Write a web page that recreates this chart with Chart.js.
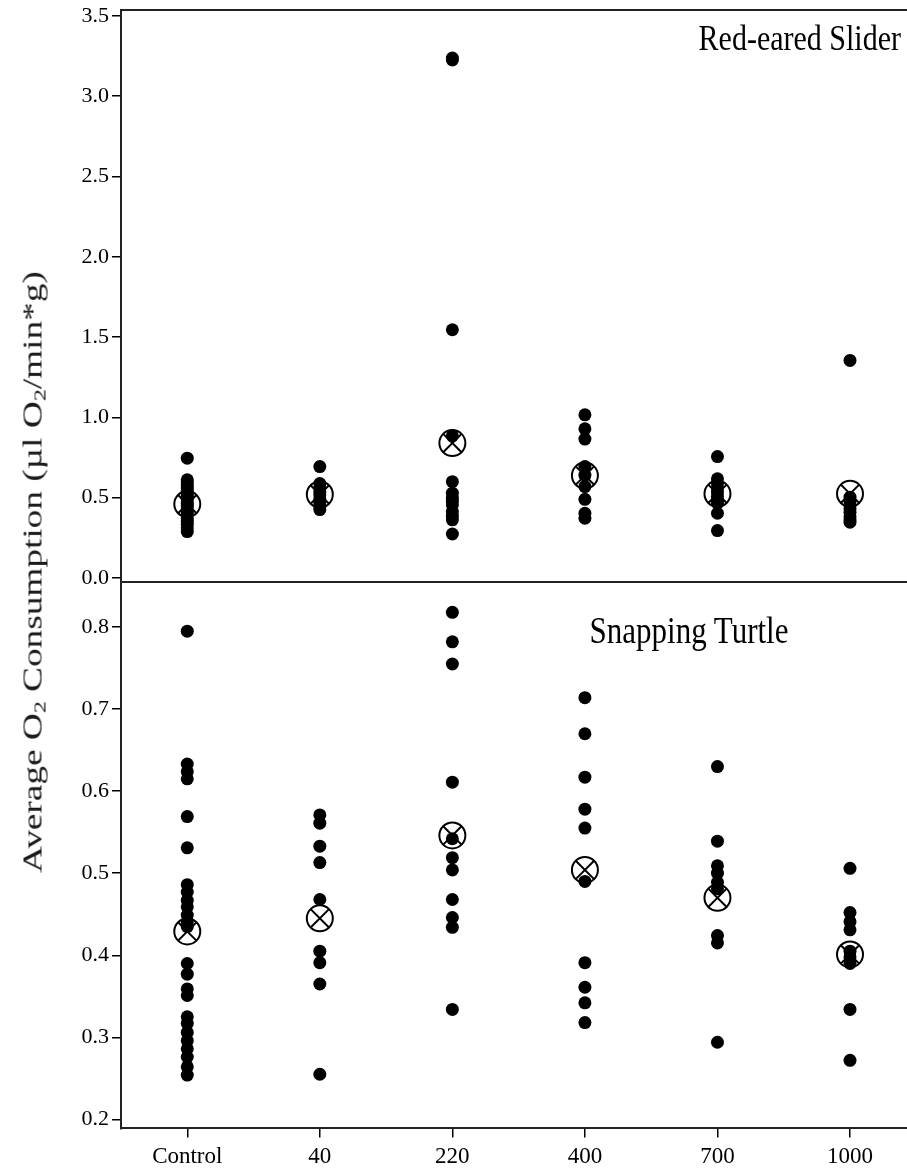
<!DOCTYPE html>
<html>
<head>
<meta charset="utf-8">
<script src="https://cdn.jsdelivr.net/npm/chart.js@4.4.1/dist/chart.umd.min.js"></script>
<style>
  html, body { margin: 0; padding: 0; background: #fff; overflow: hidden; }
  #wrap { position: relative; width: 907px; height: 1170px; overflow: hidden; }
  #topChart { position: absolute; left: 0; top: 0; }
  #botChart { position: absolute; left: 0; top: 582px; }
  .lbl { position: absolute; font-family: 'Liberation Serif', 'Times New Roman', serif; color: #000; white-space: nowrap; line-height: 1; }
  .lbl sub { font-size: 0.65em; vertical-align: -0.25em; line-height: 0; }
</style>
</head>
<body>
<div id="wrap">
  <canvas id="topChart" width="907" height="592"></canvas>
  <canvas id="botChart" width="907" height="595"></canvas>
  <div class="lbl" id="ytitle" style="left:33px; top:572px; font-size:27px; color:#1a1a1a; transform: translate(-50%,-50%) rotate(-90deg) scaleX(1.38);">Average O<sub>2</sub> Consumption (µl O<sub>2</sub>/min*g)</div>
  <div class="lbl" style="right:6px; top:23px; font-size:30px; transform: scaleY(1.2);">Red-eared Slider</div>
  <div class="lbl" style="left:689px; top:615px; font-size:31px; transform: translate(-50%,0) scaleY(1.2);">Snapping Turtle</div>
</div>

<script>
// categories (dose groups)
const categories = ['Control', '40', '220', '400', '700', '1000'];

// Red-eared Slider, individual values
const sliderControl = [0.746, 0.611, 0.598, 0.578, 0.560, 0.545, 0.521, 0.503, 0.488, 0.466, 0.452, 0.437, 0.415, 0.398, 0.371, 0.352, 0.334, 0.312, 0.289];
const slider40 = [0.694, 0.588, 0.561, 0.537, 0.518, 0.493, 0.471, 0.447, 0.426];
const slider220 = [3.238, 3.226, 1.546, 0.885, 0.600, 0.528, 0.497, 0.478, 0.455, 0.414, 0.385, 0.362, 0.274];
const slider400 = [1.016, 0.929, 0.865, 0.694, 0.640, 0.569, 0.490, 0.403, 0.372];
const slider700 = [0.756, 0.618, 0.590, 0.562, 0.535, 0.508, 0.487, 0.466, 0.403, 0.295];
const slider1000 = [1.355, 0.503, 0.478, 0.452, 0.431, 0.409, 0.382, 0.362, 0.347];
const sliderMeans = [0.460, 0.520, 0.840, 0.638, 0.524, 0.524];

// Snapping Turtle, individual values
const snapControl = [0.795, 0.633, 0.624, 0.615, 0.569, 0.531, 0.486, 0.477, 0.467, 0.459, 0.449, 0.441, 0.435, 0.390, 0.377, 0.359, 0.351, 0.325, 0.317, 0.306, 0.296, 0.286, 0.276, 0.264, 0.254];
const snap40 = [0.571, 0.561, 0.533, 0.513, 0.468, 0.405, 0.391, 0.365, 0.255];
const snap220 = [0.818, 0.782, 0.755, 0.611, 0.542, 0.519, 0.504, 0.468, 0.446, 0.434, 0.334];
const snap400 = [0.714, 0.670, 0.617, 0.578, 0.555, 0.490, 0.391, 0.361, 0.342, 0.318];
const snap700 = [0.630, 0.539, 0.509, 0.500, 0.489, 0.481, 0.424, 0.415, 0.294];
const snap1000 = [0.506, 0.452, 0.441, 0.431, 0.405, 0.398, 0.390, 0.334, 0.272];
const snapMeans = [0.429, 0.445, 0.546, 0.504, 0.470, 0.401];

// tick labels
const sliderTicks = [0.0, 0.5, 1.0, 1.5, 2.0, 2.5, 3.0, 3.5];
const snapTicks = [0.2, 0.3, 0.4, 0.5, 0.6, 0.7, 0.8];

const serif = "'Liberation Serif', 'Times New Roman', serif";

function toPoints(groups) {
    var pts = [];
    groups.forEach(function(vals, i) {
        vals.forEach(function(v) { pts.push({ x: i, y: v }); });
    });
    return pts;
}

function meanPoints(means) {
    return means.map(function(v, i) { return { x: i, y: v }; });
}

// no auto padding for overflowing tick labels, the panels are placed by hand
function noPad(s) {
    s.paddingTop = 0;
    s.paddingBottom = 0;
    s.paddingLeft = 0;
    s.paddingRight = 0;
}

function makeChart(id, groups, means, yMin, yMax, yTicks, isBottom) {
    var scales = {
        x: {
            type: 'linear',
            position: 'bottom',
            min: -0.5,
            max: 5.43,
            afterBuildTicks: function(s) { s.ticks = categories.map(function(c, i) { return { value: i }; }); },
            afterFit: noPad,
            ticks: {
                display: isBottom,
                autoSkip: false,
                maxRotation: 0,
                padding: 6,
                color: '#000',
                font: { family: serif, size: 23 },
                callback: function(v) { return categories[v]; }
            },
            grid: { drawOnChartArea: false, drawTicks: isBottom, tickLength: 9, color: '#000', lineWidth: 1.5 },
            border: { display: true, color: '#222', width: 2 }
        },
        y: {
            min: yMin,
            max: yMax,
            afterBuildTicks: function(s) { s.ticks = yTicks.map(function(v) { return { value: v }; }); },
            afterFit: function(s) { s.width = 121; noPad(s); },
            ticks: {
                color: '#000',
                padding: 3,
                font: { family: serif, size: 22 },
                callback: function(v) { return v.toFixed(1); }
            },
            grid: { drawOnChartArea: false, tickLength: 9, color: '#000', lineWidth: 1.5 },
            border: { color: '#222', width: 2 }
        }
    };

    if (!isBottom) {
        // top frame line of the upper panel
        scales.x2 = {
            type: 'linear',
            position: 'top',
            min: -0.5,
            max: 5.43,
            afterFit: noPad,
            ticks: { display: false },
            grid: { drawOnChartArea: false, drawTicks: false },
            border: { display: true, color: '#222', width: 2 }
        };
    }

    return new Chart(document.getElementById(id), {
        type: 'scatter',
        data: {
            datasets: [{
                label: 'mean X',
                data: meanPoints(means),
                pointStyle: 'crossRot',
                pointRadius: 13,
                borderColor: '#000',
                borderWidth: 2,
                order: 0
            }, {
                label: 'mean circle',
                data: meanPoints(means),
                pointStyle: 'circle',
                pointRadius: 13,
                backgroundColor: 'rgba(0,0,0,0)',
                borderColor: '#000',
                borderWidth: 2,
                order: 1
            }, {
                label: 'values',
                data: toPoints(groups),
                pointStyle: 'circle',
                pointRadius: 6.5,
                backgroundColor: '#000',
                borderWidth: 0,
                order: 2
            }]
        },
        options: {
            responsive: false,
            animation: false,
            layout: {
                autoPadding: false,
                padding: isBottom ? { top: 1, bottom: 0, left: 0, right: 0 } : { top: 10, bottom: 10, left: 0, right: 0 }
            },
            plugins: { legend: { display: false }, tooltip: { enabled: false } },
            scales: scales
        }
    });
}

makeChart('topChart',
    [sliderControl, slider40, slider220, slider400, slider700, slider1000],
    sliderMeans, -0.025, 3.537, sliderTicks, false);

makeChart('botChart',
    [snapControl, snap40, snap220, snap400, snap700, snap1000],
    snapMeans, 0.189, 0.8537, snapTicks, true);
</script>
</body>
</html>
